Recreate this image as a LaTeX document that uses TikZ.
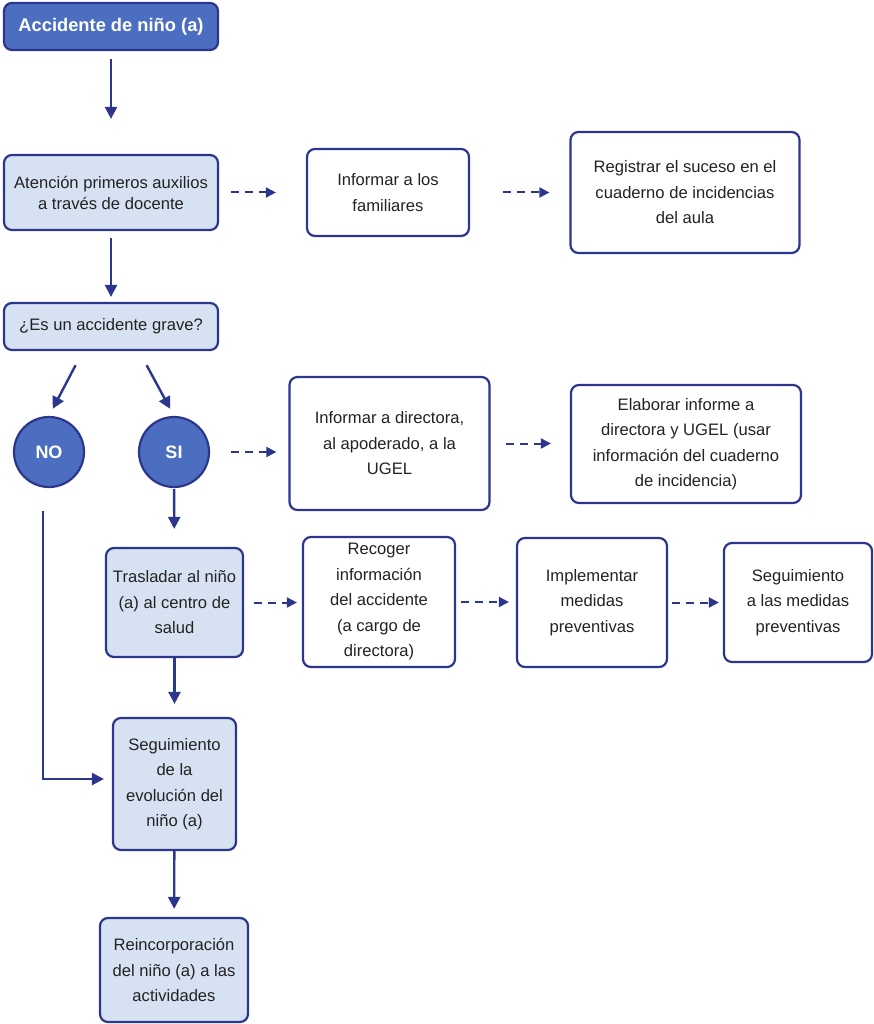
\documentclass[tikz,border=0pt]{standalone}
\usepackage{fontspec}
\setmainfont{Liberation Sans}
\usetikzlibrary{shapes.geometric, arrows, arrows.meta}

\definecolor{navy}{RGB}{43,54,140}
\definecolor{midblue}{RGB}{76,110,192}
\definecolor{paleblue}{RGB}{214,225,242}
\definecolor{txtgray}{RGB}{35,35,35}

\tikzstyle{boxStart} = [rectangle, rounded corners=8pt, minimum width=214pt, minimum height=47pt, inner sep=0pt, text centered, draw=navy, line width=2.2pt, fill=midblue, text=white, font=\bfseries\fontsize{18.3}{22}\selectfont]
\tikzstyle{boxStep} = [rectangle, rounded corners=8pt, inner sep=0pt, align=center, draw=navy, line width=2.2pt, fill=paleblue, text=txtgray, font=\fontsize{16.6}{25.5}\selectfont]
\tikzstyle{boxInfo} = [boxStep, fill=white]
\tikzstyle{choice} = [circle, minimum size=70pt, inner sep=0pt, draw=navy, line width=2.2pt, fill=midblue, text=white, font=\bfseries\fontsize{18}{22}\selectfont]
\tikzstyle{arrow} = [line width=2.4pt, draw=navy, -{Triangle[length=12pt, width=12pt]}]
\tikzstyle{arrowDash} = [line width=2pt, draw=navy, dash pattern=on 8pt off 6pt, -{Triangle[length=10pt, width=10pt]}]

\begin{document}
\begin{tikzpicture}[x=1pt, y=-1pt]
\useasboundingbox (0,0) rectangle (873,1024);

% left column
\node (acc) [boxStart] at (111,26.5) {Accidente de niño (a)};
\node (aten) [boxStep, minimum width=214pt, minimum height=75pt, font=\fontsize{16.6}{21}\selectfont] at (111,192.5) {Atención primeros auxilios\\a través de docente};
\node (grave) [boxStep, minimum width=214pt, minimum height=47pt] at (111,326.5) {¿Es un accidente grave?};
\node (no) [choice] at (49,452) {NO};
\node (si) [choice] at (174,452) {SI};
\node (trasl) [boxStep, minimum width=137pt, minimum height=109pt] at (174.5,602.5) {Trasladar al niño\\(a) al centro de\\salud};
\node (seg) [boxStep, minimum width=123pt, minimum height=132pt] at (174.5,784) {Seguimiento\\de la\\evolución del\\niño (a)};
\node (reinc) [boxStep, minimum width=148pt, minimum height=104pt] at (174,970) {Reincorporación\\del niño (a) a las\\actividades};

% right side
\node (fam) [boxInfo, minimum width=162pt, minimum height=87pt] at (388,192.5) {Informar a los\\familiares};
\node (reg) [boxInfo, minimum width=229pt, minimum height=121pt] at (685,192.5) {Registrar el suceso en el\\cuaderno de incidencias\\del aula};
\node (infdir) [boxInfo, minimum width=200pt, minimum height=133pt] at (389.5,443.5) {Informar a directora,\\al apoderado, a la\\UGEL};
\node (elab) [boxInfo, minimum width=230pt, minimum height=118pt] at (686,444) {Elaborar informe a\\directora y UGEL (usar\\información del cuaderno\\de incidencia)};
\node (rec) [boxInfo, minimum width=152pt, minimum height=130pt] at (379,602) {Recoger\\información\\del accidente\\(a cargo de\\directora)};
\node (impl) [boxInfo, minimum width=150pt, minimum height=129pt] at (592,602.5) {Implementar\\medidas\\preventivas};
\node (seg2) [boxInfo, minimum width=148pt, minimum height=119pt] at (798,602.5) {Seguimiento\\a las medidas\\preventivas};

\draw [arrow, shorten <=8pt, shorten >=35pt] (acc) -- (aten);
\draw [arrow, shorten <=7pt, shorten >=5pt] (aten) -- (grave);
\draw [arrowDash, shorten <=12pt, shorten >=30pt] (aten.east) -- (aten.east -| fam.west);
\draw [arrowDash, shorten <=33pt, shorten >=20pt] (fam.east) -- (fam.east -| reg.west);
\draw [arrow, shorten <=16pt, shorten >=8pt] ([xshift=-28pt]grave.south) -- (no.north);
\draw [arrow, shorten <=16pt, shorten >=8pt] ([xshift=28pt]grave.south) -- (si.north);
\draw [arrowDash, shorten <=21pt, shorten >=12pt] (si.east) -- (si.east -| infdir.west);
\draw [arrowDash, shorten <=15pt, shorten >=19pt] (infdir.east) -- (infdir.east -| elab.west);
\draw [arrow, shorten <=1pt, shorten >=18pt] (si) -- (trasl);
\draw [arrowDash, shorten <=10pt, shorten >=5pt] (trasl.east) -- (trasl.east -| rec.west);
\draw [arrowDash, shorten <=5pt, shorten >=7pt] (rec.east) -- (rec.east -| impl.west);
\draw [arrowDash, shorten <=4pt, shorten >=4pt] (impl.east) -- (impl.east -| seg2.west);
\draw [arrow, shorten >=13pt] (trasl) -- (seg);
\draw [arrow, shorten <=23pt, shorten >=8pt] ([xshift=-6pt]no.south) |- ([yshift=5pt]seg.west);
\draw [arrow, shorten >=8pt] (seg) -- (reinc);

\end{tikzpicture}
\end{document}
